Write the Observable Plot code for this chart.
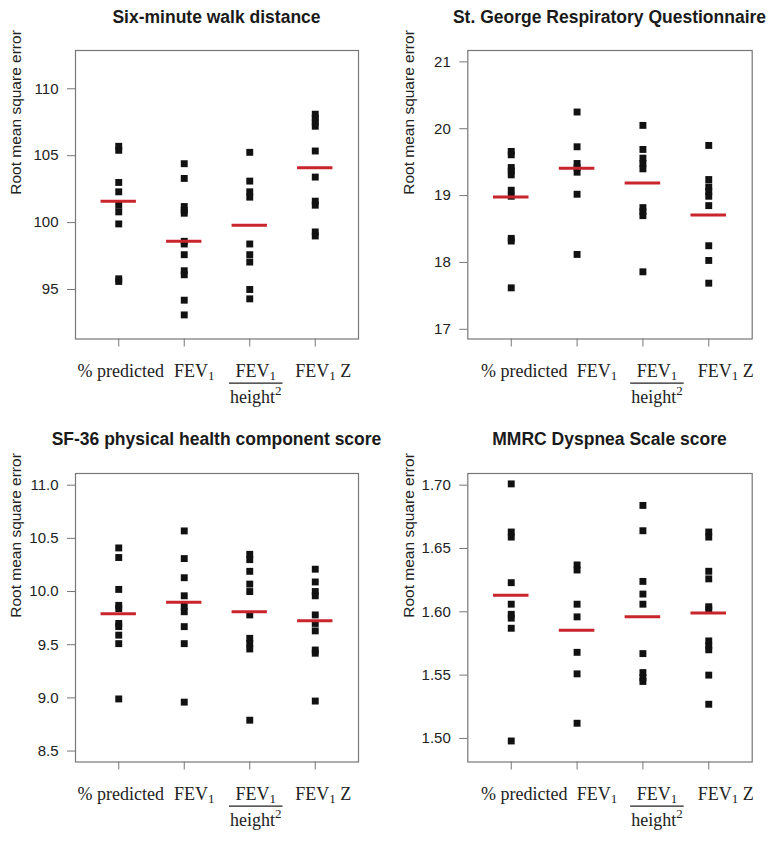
<!DOCTYPE html>
<html><head><meta charset="utf-8">
<script src="https://cdn.jsdelivr.net/npm/d3@7"></script>
<script src="https://cdn.jsdelivr.net/npm/@observablehq/plot@0.6"></script>
<style>
html,body{margin:0;padding:0;background:#fff;overflow:hidden;}
#fig{position:relative;width:779px;height:844px;overflow:hidden;}
.title{position:absolute;width:440px;text-align:center;font-weight:bold;font-size:17.5px;font-family:"Liberation Sans",Arial,sans-serif;color:#1a1a1a;line-height:20px;white-space:nowrap;}
.panel{position:absolute;}
</style></head><body><div id="fig"></div>
<script>
// ---- shared labels ----
const xLabels = ["% predicted", "FEV1", "FEV1/height2", "FEV1 Z"];
const yLabel = "Root mean square error";
const titles = ["Six-minute walk distance", "St. George Respiratory Questionnaire",
                "SF-36 physical health component score", "MMRC Dyspnea Scale score"];

// ---- Six-minute walk distance ----
const walkPct  = [105.7, 105.4, 103.0, 102.3, 101.3, 100.8, 99.9, 95.8, 95.6];
const walkFev1 = [104.4, 103.3, 101.2, 100.9, 100.7, 98.6, 98.4, 97.6, 96.4, 96.1, 94.2, 93.1];
const walkHt2  = [105.25, 103.1, 102.3, 101.9, 98.4, 97.6, 97.05, 95.0, 94.3];
const walkZ    = [108.1, 107.8, 107.5, 107.2, 105.35, 103.4, 101.6, 101.3, 99.3, 99.0];
const walkMeans = [101.6, 98.6, 99.8, 104.1];
const walkTicks = [95, 100, 105, 110];

// ---- St. George Respiratory Questionnaire ----
const sgrqPct  = [19.66, 19.61, 19.42, 19.37, 19.31, 19.08, 18.99, 18.36, 18.32, 17.62];
const sgrqFev1 = [20.25, 19.73, 19.48, 19.42, 19.35, 19.02, 18.12];
const sgrqHt2  = [20.05, 19.69, 19.56, 19.48, 19.40, 18.82, 18.76, 18.70, 17.86];
const sgrqZ    = [19.75, 19.24, 19.13, 19.06, 18.99, 18.85, 18.25, 18.03, 17.69];
const sgrqMeans = [18.98, 19.41, 19.19, 18.71];
const sgrqTicks = [17, 18, 19, 20, 21];

// ---- SF-36 physical health component score ----
const sf36Pct  = [10.41, 10.32, 10.02, 9.87, 9.84, 9.70, 9.67, 9.59, 9.51, 8.99];
const sf36Fev1 = [10.57, 10.31, 10.13, 9.96, 9.86, 9.81, 9.67, 9.51, 8.96];
const sf36Ht2  = [10.35, 10.30, 10.19, 10.07, 10.00, 9.78, 9.56, 9.51, 9.46, 8.79];
const sf36Z    = [10.21, 10.09, 10.00, 9.96, 9.78, 9.70, 9.63, 9.45, 9.42, 8.97];
const sf36Means = [9.79, 9.90, 9.81, 9.725];
const sf36Ticks = [8.5, 9.0, 9.5, 10.0, 10.5, 11.0];

// ---- MMRC Dyspnea Scale score ----
const mmrcPct  = [1.701, 1.663, 1.659, 1.623, 1.606, 1.598, 1.595, 1.587, 1.498];
const mmrcFev1 = [1.637, 1.633, 1.606, 1.596, 1.568, 1.551, 1.512];
const mmrcHt2  = [1.684, 1.664, 1.624, 1.614, 1.606, 1.567, 1.552, 1.548, 1.545];
const mmrcZ    = [1.663, 1.659, 1.632, 1.626, 1.604, 1.602, 1.577, 1.573, 1.570, 1.550, 1.527];
const mmrcMeans = [1.613, 1.5855, 1.596, 1.599];
const mmrcTicks = [1.50, 1.55, 1.60, 1.65, 1.70];

const leftShift = [2, 10, 6, 8];
const rightShift = [13, 20, 14, 17];

const panels = [
  {title: titles[0], groups: [walkPct, walkFev1, walkHt2, walkZ], means: walkMeans, ticks: walkTicks,
   fmt: d3.format("d"), domain: [91.3, 112.86], left: 0, top: 40, ml: 75, mr: 31, shift: leftShift, tTop: 7},
  {title: titles[1], groups: [sgrqPct, sgrqFev1, sgrqHt2, sgrqZ], means: sgrqMeans, ticks: sgrqTicks,
   fmt: d3.format("d"), domain: [16.855, 21.17], left: 390, top: 40, ml: 77.3, mr: 27.3, shift: rightShift, tTop: 7},
  {title: titles[2], groups: [sf36Pct, sf36Fev1, sf36Ht2, sf36Z], means: sf36Means, ticks: sf36Ticks,
   fmt: d3.format(".1f"), domain: [8.397, 11.11], left: 0, top: 463.3, ml: 75, mr: 31, shift: leftShift, tTop: 429},
  {title: titles[3], groups: [mmrcPct, mmrcFev1, mmrcHt2, mmrcZ], means: mmrcMeans, ticks: mmrcTicks,
   fmt: d3.format(".2f"), domain: [1.4814, 1.7092], left: 390, top: 463.3, ml: 77.3, mr: 27.3, shift: rightShift, tTop: 429}
];

const fig = document.getElementById("fig");
const NS = "http://www.w3.org/2000/svg";
const W = 389, H = 380, MT = 10, MB = 81.5;
const labelSet = new Set(xLabels);

function tsp(parent, str, attrs = {}) {
  const e = document.createElementNS(NS, "tspan");
  if (str) e.textContent = str;
  for (const k in attrs) e.setAttribute(k, attrs[k]);
  parent.appendChild(e);
  return e;
}

function enrich(svg) {
  Array.from(svg.querySelectorAll("text")).forEach(t => {
    const s = t.textContent;
    if (!labelSet.has(s)) return;
    const tx = t.getAttribute("x") || "0";
    while (t.firstChild) t.removeChild(t.firstChild);
    if (s === "FEV1") {
      tsp(t, "FEV"); tsp(t, "1", {dy: 3.5, "font-size": 13});
    } else if (s === "FEV1 Z") {
      tsp(t, "FEV"); tsp(t, "1", {dy: 3.5, "font-size": 13}); tsp(t, "\u00a0Z", {dy: -3.5});
    } else if (s === "FEV1/height2") {
      tsp(t, "FEV"); tsp(t, "1", {dy: 3.5, "font-size": 13});
      const den = tsp(t, "", {x: tx, dy: 22.5});
      const h = tsp(den, "height");
      tsp(den, "2", {dy: -8, "font-size": 13});
      const hb = h.getBBox(), db = den.getBBox();
      const line = document.createElementNS(NS, "line");
      const y = hb.y - 3.5;
      line.setAttribute("x1", db.x - 1); line.setAttribute("x2", db.x + db.width + 1);
      line.setAttribute("y1", y); line.setAttribute("y2", y);
      line.setAttribute("stroke", "#222"); line.setAttribute("stroke-width", 1.3);
      const tr = t.getAttribute("transform");
      if (tr) line.setAttribute("transform", tr);
      t.parentNode.appendChild(line);
    } else {
      tsp(t, s);
    }
  });
}

panels.forEach(p => {
  const pts = p.groups.flatMap((vals, i) => vals.map(v => ({x: i + 1, y: v})));
  const svg = Plot.plot({
    width: W, height: H,
    marginLeft: p.ml, marginRight: p.mr, marginTop: MT, marginBottom: MB,
    style: {fontFamily: '"Liberation Sans", Arial, sans-serif', color: "#222", background: "white", overflow: "visible"},
    x: {domain: [0.34, 4.66]},
    y: {domain: p.domain},
    marks: [
      Plot.frame({stroke: "#777", strokeWidth: 1.2}),
      Plot.axisY({ticks: p.ticks, tickFormat: p.fmt, tickSize: 8, tickPadding: 9, fontSize: 15, label: null, stroke: "#777"}),
      Plot.axisX({ticks: [1, 2, 3, 4], tickFormat: () => "", tickSize: 8, label: null, stroke: "#777"}),
      Plot.text([yLabel], {frameAnchor: "left", rotate: -90, dx: -59, text: d => d, fontSize: 15.5, fill: "#222"}),
      ...xLabels.map((lab, i) => Plot.text([lab], {x: () => i + 1, frameAnchor: "bottom", dy: 37.7, dx: p.shift[i], text: d => d,
        fontSize: 18, fontFamily: '"Liberation Serif", "Times New Roman", serif', fill: "#222"})),
      Plot.dot(pts, {x: "x", y: "y", symbol: "square", r: 3.9, fill: "#111"}),
      Plot.ruleY(p.means, {y: d => d, x1: (d, i) => i + 1 - 0.27, x2: (d, i) => i + 1 + 0.27, stroke: "#c9252c", strokeWidth: 3})
    ]
  });
  const wrap = document.createElement("div");
  wrap.className = "panel";
  wrap.style.left = p.left + "px";
  wrap.style.top = p.top + "px";
  wrap.appendChild(svg);
  fig.appendChild(wrap);
  enrich(svg);

  const title = document.createElement("div");
  title.className = "title";
  const center = p.left + p.ml + (W - p.ml - p.mr) / 2;
  title.style.left = (center - 220) + "px";
  title.style.top = p.tTop + "px";
  title.textContent = p.title;
  fig.appendChild(title);
});
</script></body></html>
